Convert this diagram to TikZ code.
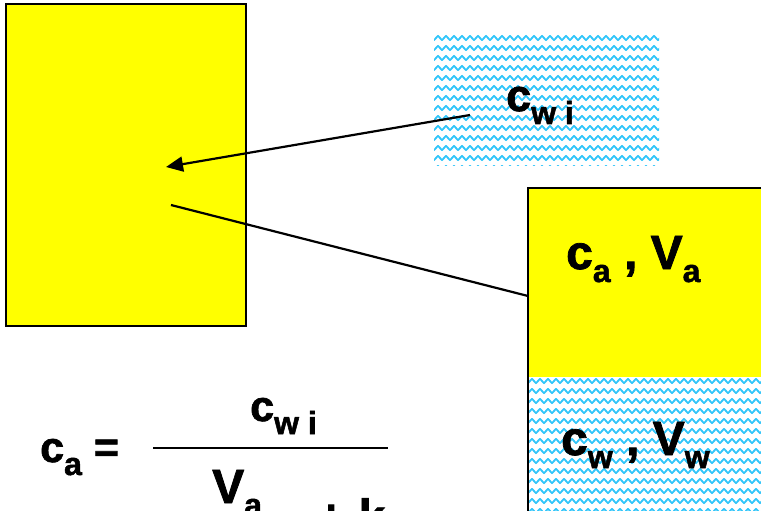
\documentclass[tikz,border=0pt]{standalone}
\usepackage{fontspec}
\setmainfont{Liberation Sans}[BoldFeatures={FakeBold=1.6}]
\usetikzlibrary{arrows.meta}
\definecolor{wavecol}{RGB}{50,198,250}
\definecolor{boxyellow}{RGB}{255,255,0}
\newcommand{\sbx}[1]{\raisebox{-13pt}{\fontsize{32}{32}\selectfont #1}}
\newcommand{\wavefill}[4]{% x0, y0(top, px), width, height
  \begin{scope}
    \clip (#1,#2) rectangle ({#1+#3},{#2+#4});
    \pgfmathtruncatemacro\nrows{#4/10+1}
    \foreach \i in {0,...,\nrows}{
      \pgfmathsetmacro\yy{#2+4+10*\i}
      \draw[wavecol, line width=1.8pt, line join=round]
        plot[domain=-8:264, samples=69] ({#1+\x}, {\yy+2.1*cos(\x*45)});
    }
  \end{scope}}
\tikzset{
  lbl/.style={anchor=base west, inner sep=0pt, font=\fontsize{48}{50}\selectfont\bfseries},
  lblsmall/.style={anchor=base west, inner sep=0pt, font=\fontsize{45}{47}\selectfont\bfseries},
  boxline/.style={draw=black, line width=2pt},
  conn/.style={draw=black, line width=2.2pt},
}
\begin{document}
\begin{tikzpicture}[x=1pt, y=-1pt]
  \useasboundingbox (0,0) rectangle (761,511);
  \clip (0,0) rectangle (761,511);
  % left tank
  \node[boxline, fill=boxyellow, minimum width=240pt, minimum height=322pt, inner sep=0pt] (tank) at (126,165) {};
  % water sample
  \wavefill{434}{34}{225}{131}
  \node[inner sep=0pt, minimum width=225pt, minimum height=131pt] (water) at (546.5,99.5) {};
  \node[lblsmall] (cwi) at (506,111) {c\sbx{w i}};
  % right flask
  \fill[boxyellow] (528,188) rectangle (780,377);
  \wavefill{528}{377}{252}{150}
  \node[boxline, minimum width=252pt, minimum height=337pt, inner sep=0pt] (flask) at (654,356.5) {};
  \node[lbl] (ca) at (566,269) {c\sbx{a} , V\sbx{a}};
  \node[lbl] (cw) at (561,455) {c\sbx{w} , V\sbx{w}};
  % connectors
  \coordinate (arrS) at (470,115);
  \coordinate (arrE) at (166,167);
  \coordinate (lnS) at (171,205);
  \coordinate (lnE) at (528,296);
  \draw[conn, -{Triangle[length=17pt,width=15pt]}] (arrS) -- (arrE);
  \draw[conn] (lnS) -- (lnE);
  % formula
  \node[anchor=base west, inner sep=0pt, font=\fontsize{43}{45}\selectfont\bfseries] (lhs) at (40,462) {c\sbx{a} =};
  \node[anchor=base west, inner sep=0pt, font=\fontsize{43}{45}\selectfont\bfseries] (num) at (250,421) {c\sbx{w i}};
  \coordinate (fracL) at (153,448);
  \coordinate (fracR) at (388,448);
  \draw[black, line width=2pt] (fracL) -- (fracR);
  \node[lbl] (den) at (212,503) {V\sbx{a}};
  \node[lbl] (denk) at (317,533) {+ k};
\end{tikzpicture}
\end{document}
